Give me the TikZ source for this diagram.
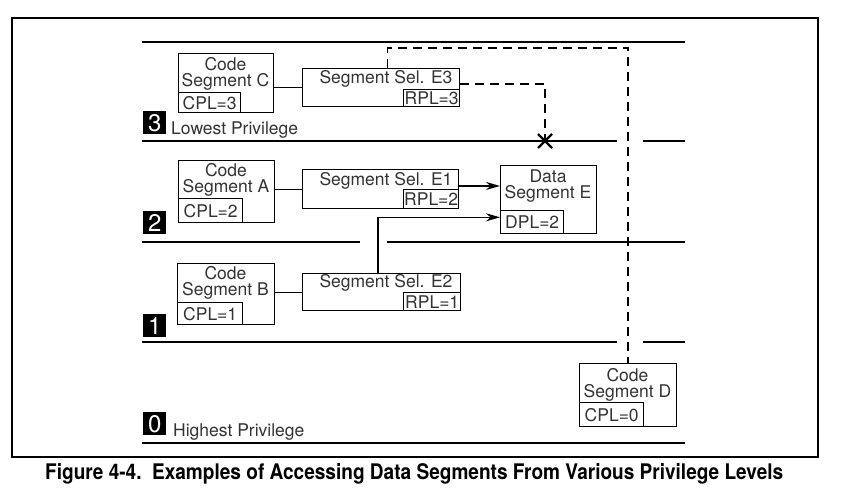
\documentclass[tikz,border=0pt]{standalone}
\usepackage{fontspec}
\setmainfont{TeX Gyre Heros}
\usetikzlibrary{arrows.meta,calc}
\definecolor{txt}{HTML}{333333}
\tikzset{
  bx/.style={draw, line width=1.4pt, inner sep=0pt, anchor=north west},
  lbl/.style={text=txt, font=\fontsize{17.5}{16}\selectfont, inner sep=0pt, align=center},
  lvl/.style={line width=1.7pt},
  num/.style={fill=black, text=white, minimum width=23pt, minimum height=23pt, inner sep=0pt, font=\fontsize{24}{24}\selectfont},
  arr/.style={line width=1.4pt, -{Stealth[length=14pt,width=8pt]}},
  dsh/.style={line width=1.6pt, dash pattern=on 9pt off 6pt},
  con/.style={line width=1.4pt}
}
\newcommand{\bxat}[5]{\node[bx, minimum width=#4pt, minimum height=#5pt] (#1) at (#2,#3) {};}
\begin{document}
\begin{tikzpicture}[x=1pt,y=-1pt]
\useasboundingbox (0,0) rectangle (848,495);
\draw[line width=1.7pt] (12,18) rectangle (818,457);
% level lines
\draw[lvl] (142,42) -- (685,42);
\draw[lvl] (142,141) -- (617,141);
\draw[lvl] (643,141) -- (685,141);
\draw[lvl] (142,242) -- (360,242);
\draw[lvl] (387,242) -- (685,242);
\draw[lvl] (142,342) -- (617,342);
\draw[lvl] (643,342) -- (685,342);
\draw[lvl] (142,443) -- (685,443);
% level numbers
\node[num, anchor=north west] (n3) at (143,111) {3};
\node[lbl, anchor=west] (t3) at (171,130) {Lowest Privilege};
\node[num, anchor=north west] (n2) at (143,211) {2};
\node[num, anchor=north west] (n1) at (143,314) {1};
\node[num, anchor=north west] (n0) at (143,412) {0};
\node[lbl, anchor=west] (t0) at (173,432) {Highest Privilege};
% Code Segment C
\bxat{cC}{178}{53}{95}{59}
\node[lbl] (cCt) at (225.5,74) {Code\\Segment C};
\node[bx, minimum width=62pt, minimum height=20pt, lbl] (cCp) at (178,92) {CPL=3};
% Selector E3
\bxat{sE3}{302}{68}{157}{38}
\node[lbl] (sE3t) at (386,79) {Segment Sel. E3};
\node[bx, minimum width=56pt, minimum height=17pt, lbl] (sE3r) at (403,89) {RPL=3};
% Code Segment A
\bxat{cA}{178}{160}{96}{62}
\node[lbl] (cAt) at (226,179.5) {Code\\Segment A};
\node[bx, minimum width=64pt, minimum height=24pt, lbl] (cAp) at (178,198) {CPL=2};
% Selector E1
\bxat{sE1}{302}{169}{156}{39}
\node[lbl] (sE1t) at (386,181) {Segment Sel. E1};
\node[bx, minimum width=55pt, minimum height=19pt, lbl] (sE1r) at (403,189) {RPL=2};
% Data Segment E
\bxat{dE}{500}{165}{96}{68}
\node[lbl] (dEt) at (548,186.5) {Data\\Segment E};
\node[bx, minimum width=63pt, minimum height=23pt, lbl] (dEp) at (500,210) {DPL=2};
% Code Segment B
\bxat{cB}{177}{263}{97}{61}
\node[lbl] (cBt) at (225.5,282.5) {Code\\Segment B};
\node[bx, minimum width=65pt, minimum height=22pt, lbl] (cBp) at (177,302) {CPL=1};
% Selector E2
\bxat{sE2}{302}{273}{158}{37}
\node[lbl] (sE2t) at (386,283) {Segment Sel. E2};
\node[bx, minimum width=57pt, minimum height=18pt, lbl] (sE2r) at (403,292) {RPL=1};
% Code Segment D
\bxat{cD}{579}{363}{97}{63}
\node[lbl] (cDt) at (627.5,384.5) {Code\\Segment D};
\node[bx, minimum width=64pt, minimum height=24pt, lbl] (cDp) at (579,402) {CPL=0};
% connectors
\draw[con] (sE3.west) -- (sE3.west -| cC.east);
\draw[con] (sE1.west) -- (sE1.west -| cA.east);
\draw[con] (sE2.west) -- (sE2.west -| cB.east);
\coordinate (e1out) at ($(sE1.north east)!0.42!(sE1.south east)$);
\draw[arr] (e1out) -- (e1out -| dE.west);
\coordinate (e2top) at ($(sE2.north west)!0.478!(sE2.north east)$);
\coordinate (dplin) at ($(dEp.north west)!0.3!(dEp.south west)$);
\draw[arr] (e2top) |- (dplin);
% dashed paths
\coordinate (e3top) at ($(sE3.north west)!0.54!(sE3.north east)$);
\coordinate (dturn) at (628,48);
\draw[dsh] (e3top) |- (dturn) -| (cD.north);
\coordinate (e3r) at ($(sE3.north east)!0.4!(sE3.south east)$);
\coordinate (xm) at (545,141);
\draw[dsh] (e3r) -| (xm);
\draw[line width=2.2pt] ($(xm)+(-7,-7)$) -- ($(xm)+(7,7)$) ($(xm)+(-7,7)$) -- ($(xm)+(7,-7)$);
% caption
\node[inner sep=0pt, anchor=west] (cap) at (45,474) {\resizebox{738pt}{\height}{\fontsize{21.5}{24}\selectfont\bfseries Figure 4-4.\ \ Examples of Accessing Data Segments From Various Privilege Levels}};
\end{tikzpicture}
\end{document}
